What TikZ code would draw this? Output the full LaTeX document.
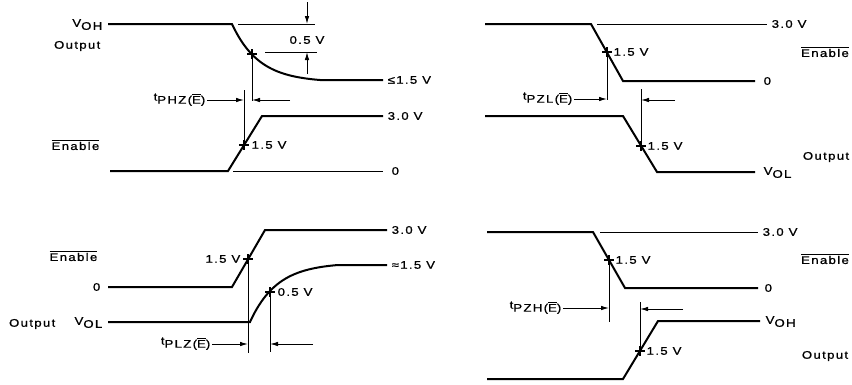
\documentclass[tikz,border=0pt]{standalone}
\usepackage{fontspec}
\setmainfont{Liberation Sans}[FakeStretch=1.2,LetterSpace=12,FakeBold=1]
\usetikzlibrary{arrows.meta,calc}
\newcommand{\lowsub}[2]{#1\raisebox{-3pt}[0pt][0pt]{#2}}
\newcommand{\tlab}[1]{\raisebox{3pt}[0pt][0pt]{t}#1}
\newcommand{\barE}{$\overline{\hbox{E}}$}
\newcommand{\enlabel}{$\overline{\hbox{Enable}}$}
\tikzset{xmark/.pic={\draw[line width=1.4pt] (-5,0) -- (5,0) (0,-5) -- (0,5);}}

\begin{document}
\begin{tikzpicture}[x=1pt,y=-1pt,>={Latex[length=8pt,width=4.5pt]},
  font=\fontsize{11}{13}\selectfont,
  wave/.style={line width=2pt},
  guide/.style={line width=0.9pt},
  timer/.style={line width=0.9pt,->},
  lbl/.style={inner sep=1.5pt}]
  \useasboundingbox (0,0) rectangle (852,384);

  \draw[wave] (108,24) -- (232,24)
    -- plot[domain=0:88,samples=40] ({232+\x},{24+56*(1-exp(-\x/27))/(1-exp(-88/27))})
    -- (383,80);
  \node[lbl,anchor=east] (voh1) at (104,23) {\lowsub{V}{OH}};
  \node[lbl,anchor=east] (out1) at (102,46) {Output};
  \node[lbl,anchor=west] (le1) at (386,80) {≤1.5 V};
  \draw[guide] (238,24) -- (315,24);
  \draw[guide] (265,52) -- (317,52);
  \draw[timer] (307,2) -- (307,24);
  \draw[timer] (307,74) -- (307,52);
  \node[lbl] (dv1) at (307,40) {0.5 V};
  \draw[wave] (110,171) -- (228,171) -- (262,116) -- (383,116);
  \draw[guide] (233,171) -- (383,171);
  \node[lbl,anchor=west] (hi1) at (386,116) {3.0 V};
  \node[lbl,anchor=west] (lo1) at (390,171) {0};
  \node[lbl,anchor=east] (en1) at (101,145) {\enlabel};
  \coordinate (c1) at (252,54);
  \coordinate (c2) at (244,145);
  \pic at (c1) {xmark};
  \pic at (c2) {xmark};
  \draw[guide] (c1) -- (252,101);
  \draw[guide] (244,90) -- (c2);
  \node[lbl,anchor=west] (m1) at (250,145) {1.5 V};
  \node[lbl,anchor=east] (tphz) at (207,100) {\tlab{PHZ(\barE)}};
  \draw[timer] (tphz.east) -- (tphz.east -| c2);
  \coordinate (r1) at (290,100);
  \draw[timer] (r1) -- (r1 -| c1);

  \draw[wave] (485,24) -- (591,24) -- (623,81) -- (755,81);
  \draw[guide] (597,24) -- (767,24);
  \node[lbl,anchor=west] (hi2) at (770,24) {3.0 V};
  \node[lbl] (en2) at (825,52) {\enlabel};
  \node[lbl,anchor=west] (lo2) at (762,81) {0};
  \coordinate (c3) at (607,52);
  \pic at (c3) {xmark};
  \node[lbl,anchor=west] (m2) at (612,52) {1.5 V};
  \draw[guide] (c3) -- (607,100);
  \draw[wave] (485,116) -- (623,116) -- (657,172) -- (755,172);
  \node[lbl,anchor=west] (vol2) at (762,171) {\lowsub{V}{OL}};
  \node[lbl] (out2) at (826,157) {Output};
  \coordinate (c4) at (641,146);
  \pic at (c4) {xmark};
  \node[lbl,anchor=west] (m3) at (646,146) {1.5 V};
  \draw[guide] (641,89) -- (c4);
  \node[lbl,anchor=east] (tpzl) at (574,99) {\tlab{PZL(\barE)}};
  \draw[timer] (tpzl.east) -- (tpzl.east -| c3);
  \coordinate (r2) at (675,100);
  \draw[timer] (r2) -- (r2 -| c4);

  \draw[wave] (108,287) -- (232,287) -- (265,230) -- (387,230);
  \node[lbl,anchor=west] (hi3) at (390,230) {3.0 V};
  \node[lbl,anchor=east] (en3) at (99,256) {\enlabel};
  \node[lbl,anchor=east] (lo3) at (102,287) {0};
  \coordinate (c5) at (248,259);
  \pic at (c5) {xmark};
  \node[lbl,anchor=east] (m4) at (242,259) {1.5 V};
  \draw[wave] (108,322) -- (250,322)
    -- plot[domain=0:88,samples=40] ({250+\x},{322-57*(1-exp(-\x/27))/(1-exp(-88/27))})
    -- (387,265);
  \node[lbl,anchor=west] (ap3) at (390,265) {≈1.5 V};
  \node[lbl,anchor=east] (vol3) at (104,321) {\lowsub{V}{OL}};
  \node[lbl,anchor=east] (out3) at (57,324) {Output};
  \coordinate (c6) at (270,292);
  \pic at (c6) {xmark};
  \node[lbl,anchor=west] (m5) at (276,292) {0.5 V};
  \draw[guide] (c5) -- (248,353);
  \draw[guide] (c6) -- (270,352);
  \node[lbl,anchor=east] (tplz) at (212,344) {\tlab{PLZ(\barE)}};
  \draw[timer] (tplz.east) -- (tplz.east -| c5);
  \coordinate (r3) at (313,344);
  \draw[timer] (r3) -- (r3 -| c6);

  \draw[wave] (487,232) -- (593,232) -- (625,288) -- (758,288);
  \draw[guide] (600,232) -- (758,232);
  \node[lbl,anchor=west] (hi4) at (761,232) {3.0 V};
  \node[lbl] (en4) at (825,259) {\enlabel};
  \node[lbl,anchor=west] (lo4) at (763,288) {0};
  \coordinate (c7) at (609,260);
  \pic at (c7) {xmark};
  \node[lbl,anchor=west] (m6) at (614,260) {1.5 V};
  \draw[guide] (c7) -- (609,322);
  \draw[wave] (487,379) -- (623,379) -- (658,321) -- (760,321);
  \node[lbl,anchor=west] (voh4) at (764,320) {\lowsub{V}{OH}};
  \node[lbl] (out4) at (825,356) {Output};
  \coordinate (c8) at (640,351);
  \pic at (c8) {xmark};
  \node[lbl,anchor=west] (m7) at (645,351) {1.5 V};
  \draw[guide] (640,302) -- (c8);
  \node[lbl,anchor=east] (tpzh) at (563,308) {\tlab{PZH(\barE)}};
  \draw[timer] (tpzh.east) -- (tpzh.east -| c7);
  \coordinate (r4) at (683,309);
  \draw[timer] (r4) -- (r4 -| c8);
\end{tikzpicture}
\end{document}
